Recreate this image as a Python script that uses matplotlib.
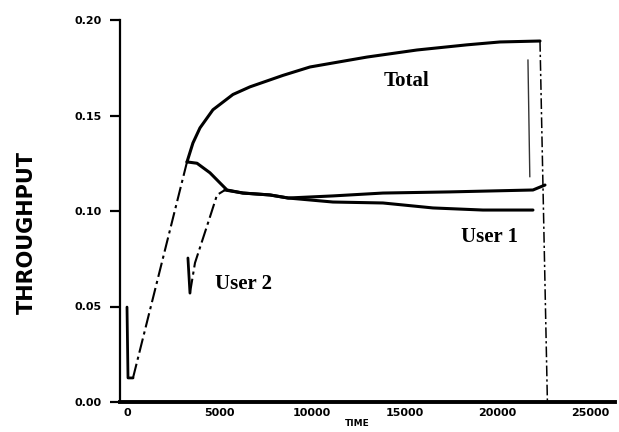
import matplotlib
matplotlib.use("Agg")
import matplotlib.pyplot as plt

# user 1 alone at first: start drop, then dashed ramp up to the peak
startTime = [0, 54, 324]
startThroughput = [0.0497, 0.0126, 0.0126]
rampTime = [324, 3240]
rampThroughput = [0.0126, 0.1257]

# total throughput after user 2 joins
totalTime = [3240, 3560, 3940, 4640, 5720, 6640, 8420, 9880, 11120, 12960, 15660, 18360, 20140, 22300]
totalThroughput = [0.1257, 0.1356, 0.1435, 0.153, 0.161, 0.165, 0.171, 0.1754, 0.1775, 0.1806, 0.1843, 0.187, 0.1885, 0.189]
totalEndTime = [22300, 22700]
totalEndThroughput = [0.189, 0.0]

user1Time = [3240, 3780, 4480, 5020, 5400, 6260, 7720, 8700, 11120, 13820, 16520, 19220, 21920]
user1Throughput = [0.1257, 0.125, 0.120, 0.1147, 0.111, 0.1094, 0.1084, 0.1068, 0.1047, 0.1042, 0.1016, 0.1005, 0.1005]

user2StartTime = [3290, 3400]
user2StartThroughput = [0.0754, 0.057]
user2RampTime = [3400, 3670, 4480, 4860, 5290]
user2RampThroughput = [0.057, 0.0728, 0.0969, 0.1084, 0.111]
user2Time = [5290, 6260, 7720, 8700, 11120, 13820, 17440, 21920, 22570]
user2Throughput = [0.111, 0.1094, 0.1084, 0.1068, 0.1079, 0.1094, 0.110, 0.111, 0.1136]

markerTime = [21650, 21750]
markerThroughput = [0.179, 0.118]

yTicks = [0.0, 0.05, 0.10, 0.15, 0.20]
yTickLabels = ["0.00", "0.05", "0.10", "0.15", "0.20"]
xTicks = [0, 5000, 10000, 15000, 20000, 25000]
xTickLabels = ["0", "5000", "10000", "15000", "20000", "25000"]

dashStyle = (0, (7, 2, 1.5, 2))

fig = plt.figure(figsize=(6.19, 4.32), dpi=100)
ax = fig.add_axes([120 / 619, 30 / 432, 495 / 619, 382 / 432])

solidKw = dict(color="black", solid_joinstyle="round", solid_capstyle="round")
ax.plot(startTime, startThroughput, linewidth=2.0, **solidKw)
ax.plot(rampTime, rampThroughput, color="black", linewidth=1.5, linestyle=dashStyle)
ax.plot(totalTime, totalThroughput, linewidth=2.2, **solidKw)
ax.plot(totalEndTime, totalEndThroughput, color="black", linewidth=1.1, linestyle=dashStyle)
ax.plot(user1Time, user1Throughput, linewidth=2.2, **solidKw)
ax.plot(user2StartTime, user2StartThroughput, linewidth=2.0, **solidKw)
ax.plot(user2RampTime, user2RampThroughput, color="black", linewidth=1.5, linestyle=dashStyle)
ax.plot(user2Time, user2Throughput, linewidth=2.2, **solidKw)
ax.plot(markerTime, markerThroughput, color="#333333", linewidth=1.0)

ax.text(15100, 0.168, "Total", fontsize=15, fontweight="bold", family="Liberation Serif", ha="center", va="center")
ax.text(19600, 0.0865, "User 1", fontsize=15, fontweight="bold", family="Liberation Serif", ha="center", va="center")
ax.text(6300, 0.0616, "User 2", fontsize=15, fontweight="bold", family="Liberation Serif", ha="center", va="center")

ax.set_xlim(-378, 26350)
ax.set_ylim(0, 0.2)

ax.spines["top"].set_visible(False)
ax.spines["right"].set_visible(False)
ax.spines["left"].set_linewidth(1.6)
ax.spines["bottom"].set_linewidth(2.8)

ax.set_yticks(yTicks)
ax.set_yticklabels(yTickLabels, fontsize=8, fontweight="bold")
ax.set_xticks(xTicks)
ax.set_xticklabels(xTickLabels, fontsize=8, fontweight="bold")
ax.tick_params(axis="y", direction="out", length=7, width=1.6, pad=6)
ax.tick_params(axis="x", length=0, pad=4)

fig.text(27 / 619, 1 - 232 / 432, "THROUGHPUT", rotation=90, fontsize=15, fontweight="bold",
         family="DejaVu Sans", ha="center", va="center")
fig.text(357 / 619, 1 - 424 / 432, "TIME", fontsize=6.5, fontweight="bold", ha="center", va="center")

fig.savefig("out.png", dpi=100)
